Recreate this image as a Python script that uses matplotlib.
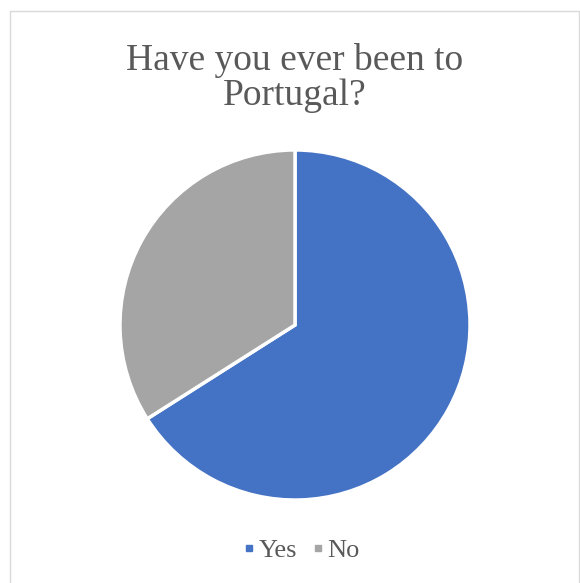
import matplotlib
matplotlib.use("Agg")
import matplotlib.pyplot as plt
from matplotlib.patches import Rectangle
from matplotlib.lines import Line2D

labels = ["Yes", "No"]
shares = [66, 34]
colors = ["#4472C4", "#A5A5A5"]
title = "Have you ever been to\nPortugal?"

W, H = 580, 583
fig = plt.figure(figsize=(W / 100, H / 100), dpi=100)
fig.patch.set_facecolor("white")

# chart-area frame (runs off the bottom of the image)
fig.patches.append(Rectangle((9.5 / W, -0.1), 569 / W, 1.1 - 11 / H,
                             transform=fig.transFigure, fill=False,
                             edgecolor="#D9D9D9", linewidth=1.0))

ax = fig.add_axes([(295 - 178) / W, 1 - (325 + 178) / H, 356 / W, 356 / H])
ax.pie(shares, colors=colors, startangle=90, counterclock=False,
       wedgeprops={"edgecolor": "white", "linewidth": 2.5})
ax.set_aspect("equal")
ax.set_xlim(-1.017, 1.017)
ax.set_ylim(-1.017, 1.017)

fig.text(295 / W, 1 - 43 / H, title, ha="center", va="top", fontsize=27,
         family="Liberation Serif", color="#595959", linespacing=1.03)

handles = [Line2D([], [], marker="s", linestyle="none", markersize=4.5,
                  markerfacecolor=c, markeredgecolor=c) for c in colors]
fig.legend(handles, labels, loc="center", bbox_to_anchor=(302 / W, 1 - 550 / H),
           ncol=2, frameon=False, handlelength=0.4, handletextpad=0.15,
           columnspacing=0.6, borderpad=0.0,
           prop={"family": "Liberation Serif", "size": 19}, labelcolor="#595959")

fig.savefig("out.png", dpi=100)
